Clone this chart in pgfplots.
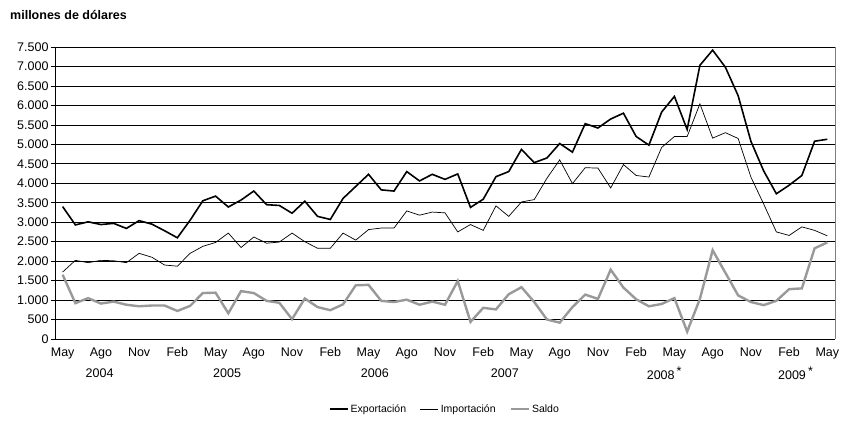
\documentclass[border=0pt]{standalone}
\usepackage{pgfplots}
\usepackage{pgfplotstable}
\pgfplotsset{compat=1.18}
\usepackage{fontspec}
\setmainfont{Liberation Sans}
\pgfplotstableread{
i exp imp sal
0 3400 1720 1650
1 2930 2020 920
2 3010 1960 1050
3 2940 2020 910
4 2970 2010 960
5 2840 1960 880
6 3040 2200 840
7 2950 2100 860
8 2780 1900 860
9 2600 1870 720
10 3050 2200 850
11 3550 2380 1180
12 3670 2480 1190
13 3390 2720 660
14 3570 2350 1230
15 3800 2620 1180
16 3450 2460 980
17 3430 2490 930
18 3230 2720 510
19 3540 2500 1040
20 3150 2330 820
21 3070 2330 740
22 3610 2720 890
23 3920 2540 1380
24 4230 2810 1390
25 3830 2850 980
26 3800 2850 950
27 4300 3290 1010
28 4060 3180 880
29 4230 3260 960
30 4100 3240 880
31 4240 2750 1490
32 3380 2940 440
33 3590 2790 800
34 4170 3420 760
35 4300 3150 1150
36 4870 3520 1330
37 4530 3580 950
38 4650 4130 500
39 5020 4600 420
40 4800 3990 820
41 5530 4400 1140
42 5420 4390 1030
43 5650 3880 1780
44 5800 4480 1320
45 5200 4200 1020
46 4980 4160 840
47 5830 4920 900
48 6230 5200 1050
49 5380 5200 190
50 7030 6040 1030
51 7420 5160 2280
52 6980 5300 1700
53 6250 5150 1120
54 5080 4160 950
55 4320 3470 870
56 3730 2750 980
57 3950 2660 1280
58 4200 2880 1300
59 5080 2790 2330
60 5130 2650 2480
}\datatable
\begin{document}
\begin{tikzpicture}[x=1pt,y=1pt]
\path (0,0) rectangle (847,423);
\node[anchor=west,inner sep=0pt,font=\bfseries\fontsize{12.5}{14}\selectfont] at (10,408) {millones de dólares};
\begin{axis}[
  at={(55pt,84pt)}, anchor=south west, scale only axis,
  width=780pt, height=292pt,
  xmin=-0.6, xmax=60.6, ymin=0, ymax=7500,
  axis x line*=bottom, axis y line*=left,
  axis line style={black, line width=0.9pt},
  ytick={0,500,...,7500}, ymajorgrids,
  grid style={black, line width=0.6pt},
  xtick={0,3,...,60},
  xticklabels={May,Ago,Nov,Feb,May,Ago,Nov,Feb,May,Ago,Nov,Feb,May,Ago,Nov,Feb,May,Ago,Nov,Feb,May},
  x tick style={draw=none},
  y tick style={black, line width=0.6pt},
  tick align=outside, major tick length=4pt,
  scaled y ticks=false,
  /pgf/number format/1000 sep={.},
  /pgf/number format/assume math mode=true,
  tick label style={font=\fontsize{12.5}{14}\selectfont},
  yticklabel style={xshift=1pt},
  xticklabel style={yshift=-1pt},
  clip=false,
  legend columns=3,
  legend style={at={(0.5,-0.24)}, anchor=center, draw=none, fill=none,
    font=\fontsize{10.5}{12}\selectfont,
    /tikz/every even column/.append style={column sep=12pt}},
  legend image code/.code={\draw[#1] (0pt,0pt) -- (18pt,0pt);},
]
\addplot[black, line width=1.6pt] table[x=i, y=exp] {\datatable};
\addlegendentry{Exportación}
\addplot[black, line width=0.7pt] table[x=i, y=imp] {\datatable};
\addlegendentry{Importación}
\addplot[gray!80, line width=2.4pt] table[x=i, y=sal] {\datatable};
\addlegendentry{Saldo}
\draw[gray, line width=0.9pt] (rel axis cs:1,0) -- (rel axis cs:1,1);
\begin{scope}[font=\fontsize{12.5}{14}\selectfont]
\node at (axis cs:2.9,0) [yshift=-34pt] {2004};
\node at (axis cs:12.9,0) [yshift=-34pt] {2005};
\node at (axis cs:24.5,0) [yshift=-34pt] {2006};
\node at (axis cs:34.7,0) [yshift=-34pt] {2007};
\node at (axis cs:47.2,0) [yshift=-34pt] {2008\,\raisebox{4pt}{*}};
\node at (axis cs:57.5,0) [yshift=-34pt] {2009\,\raisebox{4pt}{*}};
\end{scope}
\end{axis}
\end{tikzpicture}
\end{document}
